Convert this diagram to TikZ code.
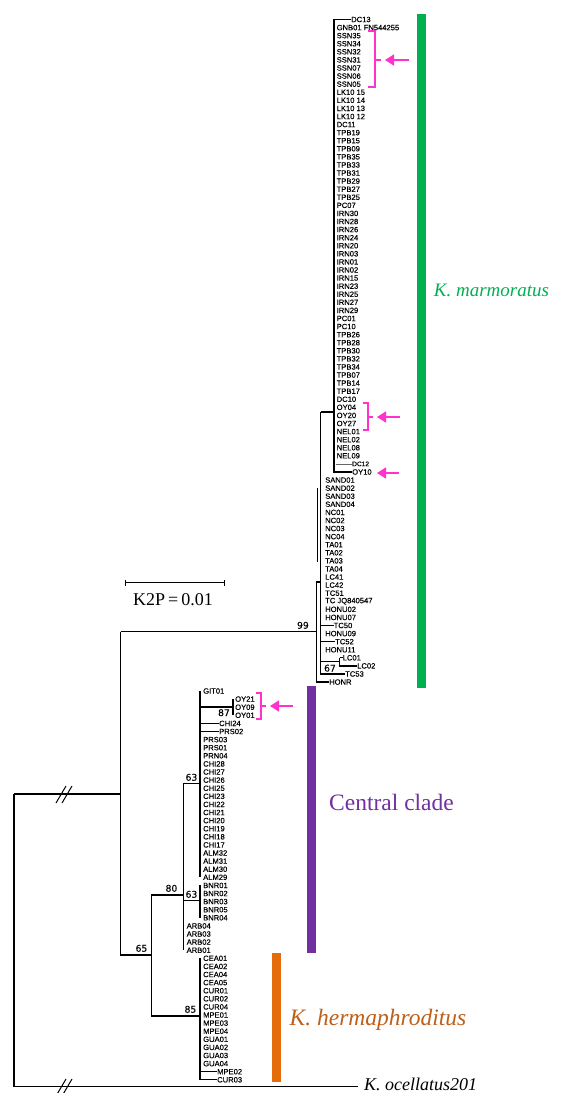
\documentclass[tikz,border=0pt]{standalone}
\usepackage{fontspec}
\setmainfont{Liberation Serif}
\newfontfamily\tipfont[FakeBold=0.3]{Liberation Sans}
\newfontfamily\supfont[FakeBold=0.2]{DejaVu Sans}
\usetikzlibrary{arrows.meta}
\definecolor{kgreen}{RGB}{0,176,80}
\definecolor{kpurple}{RGB}{112,48,160}
\definecolor{korange}{RGB}{228,108,10}
\definecolor{korangetxt}{RGB}{190,95,25}
\definecolor{kmag}{RGB}{255,51,204}
\tikzset{
  tip/.style={font=\tipfont\fontsize{7.6}{8}\selectfont, anchor=west, inner sep=0pt},
  tree/.style={draw=black, line width=1.25pt},
  thin tree/.style={draw=black!60, line width=0.6pt},
  sup/.style={font=\supfont\fontsize{9.2}{10}\selectfont, inner sep=0pt},
  mag/.style={draw=kmag, line width=1.7pt},
  magarrow/.style={draw=kmag, line width=1.7pt, -{Triangle[length=9pt,width=11pt]}},
  bigl/.style={inner sep=0pt},
}
\begin{document}
\begin{tikzpicture}[x=1pt,y=-1pt]
\useasboundingbox (0,0) rectangle (579,1093);
% ---------- K. marmoratus clade ----------
\def\ym#1{19.5+8.08*#1}
\node[tip] (DC13) at (351,{\ym{0}}) {DC13};
\foreach \lab [count=\i from 1] in {GNB01 FN544255,SSN35,SSN34,SSN32,SSN31,SSN07,SSN06,SSN05,LK10 15,LK10 14,LK10 13,LK10 12,DC11,TPB19,TPB15,TPB09,TPB35,TPB33,TPB31,TPB29,TPB27,TPB25,PC07,IRN30,IRN28,IRN26,IRN24,IRN20,IRN03,IRN01,IRN02,IRN15,IRN23,IRN25,IRN27,IRN29,PC01,PC10,TPB26,TPB28,TPB30,TPB32,TPB34,TPB07,TPB14,TPB17,DC10,OY04,OY20,OY27,NEL01,NEL02,NEL08,NEL09}
  \node[tip] (m\i) at (336.5,{\ym{\i}}) {\lab};
\node[tip, font=\tipfont\fontsize{6.6}{7}\selectfont] (DC12) at (352,{\ym{55}}) {DC12};
\node[tip] (OY10) at (352,{\ym{56}}) {OY10};
\coordinate (Atop) at (334,{\ym{0}});
\coordinate (Abot) at (334,{\ym{56}});
\coordinate (A) at (334,412);
\coordinate (Adc12) at (335.5,{\ym{55}});
\draw[tree] (DC13.west) -- (Atop) -- (Abot) -- (OY10.west);
\draw[thin tree] (Adc12) -- (DC12.west);
% B clade
\foreach \lab [count=\i from 57] in {SAND01,SAND02,SAND03,SAND04,NC01,NC02,NC03,NC04,TA01,TA02,TA03,TA04,LC41,LC42,TC51,TC JQ840547,HONU02,HONU07}
  \node[tip] (b\i) at (325,{\ym{\i}}) {\lab};
\node[tip] (TC50) at (333.5,{\ym{75}}) {TC50};
\node[tip] (HONU09) at (325,{\ym{76}}) {HONU09};
\node[tip] (TC52) at (335,{\ym{77}}) {TC52};
\node[tip] (HONU11) at (325,{\ym{78}}) {HONU11};
\node[tip] (LC01) at (342.5,{\ym{79}}) {LC01};
\node[tip] (LC02) at (357,{\ym{80}}) {LC02};
\node[tip] (TC53) at (345,{\ym{81}}) {TC53};
\node[tip] (HONR) at (329,{\ym{82}}) {HONR};
\coordinate (B) at (320.7,412);
\coordinate (Bbot) at (320.7,{\ym{81}});
\coordinate (L67) at (339.5,{\ym{79.5}});
\coordinate (X) at (317.5,488);
\coordinate (Xbot) at (317.5,562);
\coordinate (N99) at (316.7,631.7);
\coordinate (N99top) at (316.7,582);
\draw[tree] (B) -- (A);
\draw[tree] (B) -- (Bbot) -- (TC53.west);
\draw[tree] (TC50.west -| B) -- (TC50.west);
\draw[tree] (TC52.west -| B) -- (TC52.west);
\draw[tree] (L67 |- LC01.west) -- (LC01.west);
\draw[tree] (L67 |- LC01.west) -- (L67 |- LC02.west) -- (LC02.west);
\draw[tree] (L67 -| B) -- (L67);
\draw[line width=0.9pt] (X) -- (Xbot);
\draw[tree] (N99top -| B) -- (N99top) -- (N99 |- HONR.west) -- (HONR.west);
\node[sup, anchor=north east] (s67) at (336,664.5) {67};
% ---------- Central clade + hermaphroditus ----------
\def\yc#1{691+8.1*#1}
\node[tip] (GIT01) at (203,{\yc{0}}) {GIT01};
\node[tip] (OY21) at (235,{\yc{1}}) {OY21};
\node[tip] (OY09) at (235,{\yc{2}}) {OY09};
\node[tip] (OY01) at (235,{\yc{3}}) {OY01};
\node[tip] (CHI24) at (219,{\yc{4}}) {CHI24};
\node[tip] (PRS02) at (219,{\yc{5}}) {PRS02};
\foreach \lab [count=\i from 6] in {PRS03,PRS01,PRN04,CHI28,CHI27,CHI26,CHI25,CHI23,CHI22,CHI21,CHI20,CHI19,CHI18,CHI17,ALM32,ALM31,ALM30,ALM29,BNR01,BNR02,BNR03,BNR05,BNR04}
  \node[tip] (c\i) at (203,{\yc{\i}}) {\lab};
\foreach \lab [count=\i from 29] in {ARB04,ARB03,ARB02,ARB01}
  \node[tip] (c\i) at (186.5,{\yc{\i}}) {\lab};
\foreach \lab [count=\i from 33] in {CEA01,CEA02,CEA04,CEA05,CUR01,CUR02,CUR04,MPE01,MPE03,MPE04,GUA01,GUA02,GUA03,GUA04}
  \node[tip] (c\i) at (203,{\yc{\i}}) {\lab};
\node[tip] (MPE02) at (217,{\yc{47}}) {MPE02};
\node[tip] (CUR03) at (217,{\yc{48}}) {CUR03};
% internal nodes
\coordinate (C63a) at (200,783.5);
\coordinate (N87) at (233,707);
\coordinate (C63b) at (200,900.6);
\coordinate (N80) at (183.3,895);
\coordinate (N85) at (200,1016);
\coordinate (N65) at (151.7,955);
\coordinate (NIN) at (120.7,794);
\coordinate (ROOT) at (14,794);
\node[tip, font=\fontsize{18}{20}\selectfont\itshape] (OCE) at (364,1084.5) {K. ocellatus201};
% lines
\draw[tree] (C63a |- GIT01.west) -- (C63a |- c23.west);
\draw[tree] (N87 |- OY21.west) -- (N87 |- OY01.west);
\draw[tree] (C63a |- N87) -- (N87);
\draw[tree] (C63a |- CHI24.west) -- (CHI24.west);
\draw[tree] (C63a |- PRS02.west) -- (PRS02.west);
\draw[tree] (C63b |- c24.west) -- (C63b |- c28.west);
\draw[tree] (N80) |- (C63a);
\draw[tree] (N80) |- (C63b);
\draw[tree] (N80 |- C63a) -- (N80 |- c32.west);
\draw[tree] (N85 |- c33.west) -- (N85 |- CUR03.west) -- (CUR03.west);
\draw[tree] (N85 |- MPE02.west) -- (MPE02.west);
\draw[tree] (N65) |- (N80);
\draw[tree] (N65) |- (N85);
\draw[tree] (N65 |- N80) -- (N65 |- N85);
\draw[tree] (NIN |- N99) -- (N99);
\draw[tree] (NIN |- N99) -- (NIN |- N65) -- (N65);
\draw[tree] (ROOT) -- (NIN);
\coordinate (OCEend) at (358,1086.7);
\draw[tree] (ROOT) -- (ROOT |- OCEend) -- (OCEend);
% break marks
\draw[line width=1pt] (56,803) -- (66,786) (62,803) -- (72,786);
\draw[line width=1pt] (56,1096) -- (66,1079) (62,1096) -- (72,1079);
% support values
\node[sup, anchor=south east] at (309,629) {99};
\node[sup, anchor=north east] at (230,709) {87};
\node[sup, anchor=south east] at (197.5,781) {63};
\node[sup, anchor=south east] at (177.5,892) {80};
\node[sup, anchor=south east] at (197.5,898) {63};
\node[sup, anchor=south east] at (147.5,952) {65};
\node[sup, anchor=south east] at (196.5,1013) {85};
% scale bar
\coordinate (sbL) at (125,582.7);
\coordinate (sbR) at (224,582.7);
\draw[line width=1.2pt] (sbL) -- (sbR);
\draw[line width=1pt] ([yshift=-3]sbL) -- ([yshift=3]sbL) ([yshift=-3]sbR) -- ([yshift=3]sbR);
\node[font=\fontsize{18}{20}\selectfont, inner sep=0pt] (sbt) at (173,600) {K2P\,=\,0.01};
% colour bars and labels
\fill[kgreen] (417,14) rectangle (426,688);
\fill[kpurple] (307,686) rectangle (316,953);
\fill[korange] (272,953) rectangle (281,1082);
\node[bigl, text=kgreen, font=\fontsize{19}{22}\selectfont\itshape] (lm) at (491.5,290) {K. marmoratus};
\node[bigl, text=kpurple, font=\fontsize{23.5}{26}\selectfont] (lc) at (391.5,802) {Central clade};
\node[bigl, text=korangetxt, font=\fontsize{23.5}{26}\selectfont\itshape] (lh) at (378,1020) {K. hermaphroditus};
% magenta brackets and arrows
\draw[mag] (368,31) -- (375,31) -- (375,87) -- (368,87) (375,60) -- (381,60);
\coordinate (ar1s) at (409,60); \coordinate (ar1e) at (385,60);
\draw[magarrow] (ar1s) -- (ar1e);
\draw[mag] (363,403) -- (368,403) -- (368,430) -- (363,430) (368,417) -- (373,417);
\coordinate (ar2s) at (400,417); \coordinate (ar2e) at (377,417);
\draw[magarrow] (ar2s) -- (ar2e);
\coordinate (ar3s) at (399,473); \coordinate (ar3e) at (377,473);
\draw[magarrow] (ar3s) -- (ar3e);
\draw[mag] (256,693) -- (261,693) -- (261,719) -- (256,719) (261,706) -- (266,706);
\coordinate (ar4s) at (293,706); \coordinate (ar4e) at (270,706);
\draw[magarrow] (ar4s) -- (ar4e);
\end{tikzpicture}
\end{document}
